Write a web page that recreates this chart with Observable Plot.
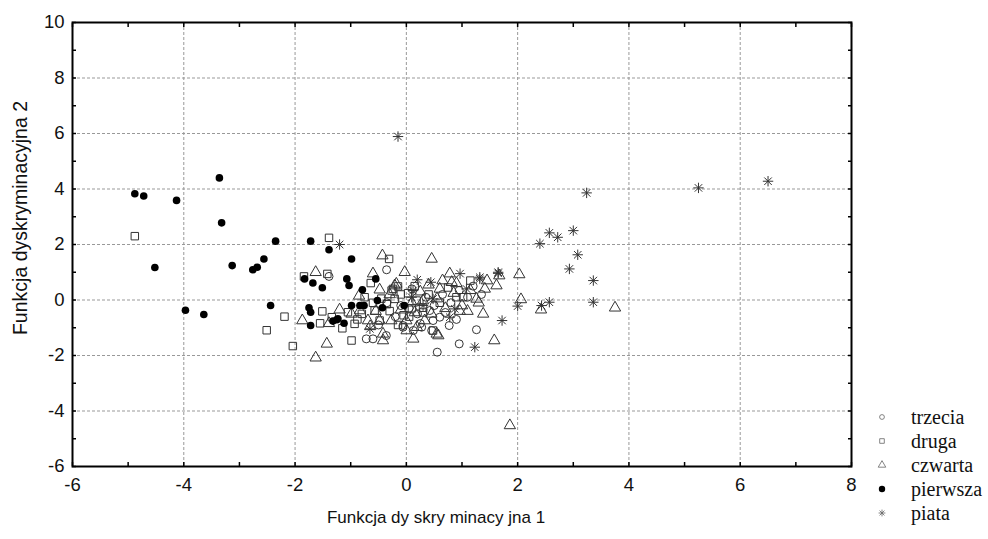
<!DOCTYPE html>
<html><head><meta charset="utf-8">
<script src="https://cdn.jsdelivr.net/npm/d3@7"></script>
<script src="https://cdn.jsdelivr.net/npm/@observablehq/plot@0.6"></script>
<style>
body{margin:0;background:#fff;}
#wrap{position:relative;width:988px;height:539px;overflow:hidden;}
#legend{position:absolute;left:875px;top:405px;font-family:"Liberation Serif","Times New Roman",serif;font-size:20px;color:#111;}
.row{height:24px;display:flex;align-items:center;white-space:nowrap;}
.row svg{width:14px;height:14px;margin-right:22px;flex:none;}
</style></head>
<body><div id="wrap"><div id="chart"></div><div id="legend"></div></div>
<script>
const groupNames = ["trzecia","druga","czwarta","pierwsza","piata"];
const xTicks = [-6,-4,-2,0,2,4,6,8];
const yTicks = [-6,-4,-2,0,2,4,6,8,10];
const xLabel = "Funkcja dy skry minacy jna 1";
const yLabel = "Funkcja dyskryminacyjna 2";

const pierwsza = [[-4.88,3.83],[-4.72,3.75],[-4.13,3.59],[-3.36,4.40],[-3.32,2.78],[-4.52,1.17],[-3.13,1.24],[-2.76,1.09],[-2.68,1.18],[-2.56,1.48],[-2.35,2.12],[-3.97,-0.37],[-3.64,-0.52],[-2.44,-0.20],[-1.72,2.12],[-1.39,1.81],[-0.985,1.48],[-1.83,0.76],[-1.68,0.61],[-1.51,0.44],[-1.07,0.76],[-1.03,0.52],[-0.79,0.37],[-0.55,0.76],[-1.75,-0.28],[-1.72,-0.44],[-1.72,-0.92],[-1.32,-0.76],[-1.25,-0.71],[-1.23,-0.68],[-1.12,-0.84],[-0.985,-0.20],[-0.835,-0.20],[-0.76,-0.20],[-0.52,-0.02],[-0.43,-0.28],[-0.04,-0.20]];

const druga = [[-4.88,2.30],[-2.19,-0.60],[-2.51,-1.09],[-2.04,-1.66],[-1.84,0.85],[-1.39,2.24],[-1.42,0.94],[-1.51,-0.41],[-1.55,-0.84],[-1.34,-0.62],[-1.15,-1.02],[-0.985,-1.46],[-0.31,1.48],[-0.64,0.61],[-1.05,-0.44],[-0.88,-0.70],[-0.93,-0.86],[-0.57,-0.38],[-0.48,-0.74],[-0.265,0.34],[-0.15,0.49],[-0.21,0.04],[0.03,0.245],[0.185,-0.02],[0.30,-0.28],[0.48,-1.10],[-0.24,0.40],[1.02,0.10],[-0.6,-0.1],[-0.3,-0.4],[-0.1,0.2],[0.05,-0.6],[0.15,0.5],[0.4,0.2],[0.6,-0.1],[0.75,0.45],[-0.75,0.1],[0.9,0.1],[1.15,0.7],[-0.45,0.05],[-0.15,-0.9],[0.3,-0.45],[-0.8,-0.5],[-0.35,-0.15],[0.1,-0.3],[-0.05,-0.55]];

const czwarta = [[1.86,-4.52],[2.03,0.92],[2.06,0.02],[2.42,-0.35],[3.75,-0.28],[1.62,0.52],[1.38,-0.50],[1.58,-1.46],[1.10,-0.40],[0.96,-0.40],[1.67,0.88],[0.455,1.48],[-0.03,1.0],[0.78,0.95],[1.41,0.40],[1.26,0.04],[0.575,-1.28],[0.125,-1.40],[0.005,-1.10],[-0.21,0.52],[0.60,0.40],[0.815,0.64],[0.30,-0.02],[-0.48,-0.74],[-0.42,-1.46],[-1.63,1.00],[-1.87,-0.74],[-1.43,-1.58],[-1.63,-2.08],[-1.39,-0.84],[-0.985,-0.50],[-0.43,1.60],[-0.60,0.95],[-0.48,0.37],[-0.835,-0.38],[-0.69,-0.74],[-0.42,-1.22],[-0.27,-0.74],[-0.18,0.58],[0.0,-0.74],[0.19,-0.98],[0.33,-0.74],[0.545,-1.22],[0.1,-0.1],[0.25,0.3],[0.45,-0.5],[0.55,0.05],[0.7,-0.3],[0.85,0.25],[1.0,-0.2],[1.15,0.35],[1.3,-0.1],[-0.3,0.2],[-0.55,-0.4],[0.15,-0.45],[0.4,0.55],[0.9,0.6],[1.45,0.7],[-0.1,-0.35],[0.65,0.7],[-0.85,0.15],[-1.2,-0.35],[-0.65,-0.95]];

const trzecia = [[-0.355,1.09],[-1.39,0.85],[-0.72,-1.40],[-0.60,-1.40],[-0.36,-1.28],[-0.06,-0.98],[0.125,-1.10],[0.455,-1.10],[0.555,-1.88],[0.77,-0.92],[1.26,-1.07],[0.95,-1.58],[0.48,-0.74],[0.275,-0.98],[0.60,-0.62],[0.42,-0.38],[-0.06,-0.92],[0.05,-0.3],[0.2,-0.5],[0.35,0.1],[0.5,-0.2],[0.65,0.2],[0.8,-0.1],[0.95,0.35],[1.1,0.1],[-0.2,-0.6],[-0.35,-0.1],[0.1,0.4],[1.2,0.5],[0.7,-0.45],[0.9,-0.7],[-0.5,-0.9],[1.35,0.2],[0.25,-0.85],[-0.1,-0.2]];

const piata = [[-0.15,5.89],[3.24,3.86],[5.25,4.04],[6.50,4.28],[2.57,2.42],[2.72,2.26],[3.00,2.50],[2.40,2.03],[3.08,1.63],[2.93,1.12],[3.36,0.70],[3.36,-0.08],[2.43,-0.20],[2.57,-0.08],[2.00,-0.22],[1.72,-0.74],[1.23,-1.70],[1.65,1.00],[1.32,0.82],[-1.20,2.0],[0.196,0.73],[0.44,0.64],[-0.655,-1.04],[0.095,0.10],[0.965,0.95],[1.32,0.76],[1.65,0.96],[0.87,-0.32],[0.78,-0.62],[0.48,0.04],[0.12,0.34],[1.08,0.40],[0.3,-0.2]];

// custom "米"-like asterisk symbol
const asterisk = {
  draw(context, size) {
    const r = Math.sqrt(size / Math.PI);
    const d = r * 0.72;
    context.moveTo(-r, 0); context.lineTo(r, 0);
    context.moveTo(0, -r); context.lineTo(0, r);
    context.moveTo(-d, -d); context.lineTo(d, d);
    context.moveTo(-d, d); context.lineTo(d, -d);
  }
};

const styles = {
  trzecia: {symbol: "circle", fill: "none", stroke: "#333", r: 4},
  druga: {symbol: "square", fill: "none", stroke: "#333", r: 4.2},
  czwarta: {symbol: "triangle", fill: "none", stroke: "#333", r: 4.2},
  pierwsza: {symbol: "circle", fill: "#000", stroke: "none", r: 3.8},
  piata: {symbol: asterisk, fill: "none", stroke: "#333", r: 5.2}
};
const groups = {trzecia, druga, czwarta, pierwsza, piata};
const drawOrder = ["druga","czwarta","trzecia","piata","pierwsza"];

const xMinor = d3.range(-6, 8.01, 1);
const yMinor = d3.range(-6, 10.01, 1);
const xGrid = xTicks.filter(v => v > -6 && v < 8);
const yGrid = yTicks.filter(v => v > -6 && v < 10);
const tickFont = {fontSize: 18.5, fontFamily: "Liberation Sans, Arial, sans-serif", fill: "#111", tickFormat: d => String(d)};

const chart = Plot.plot({
  width: 988, height: 539,
  marginLeft: 72, marginRight: 137, marginTop: 22, marginBottom: 73,
  style: {background: "#fff", fontFamily: "Liberation Sans, Arial, sans-serif"},
  x: {domain: [-6, 8]},
  y: {domain: [-6, 10]},
  marks: [
    Plot.gridX(xGrid, {stroke: "#999", strokeOpacity: 1, strokeDasharray: "3,2"}),
    Plot.gridY(yGrid, {stroke: "#999", strokeOpacity: 1, strokeDasharray: "3,2"}),
    ...drawOrder.map(g => Plot.dot(groups[g], {
      x: d => d[0], y: d => d[1],
      symbol: styles[g].symbol, fill: styles[g].fill, stroke: styles[g].stroke,
      strokeWidth: 1, r: styles[g].r
    })),
    Plot.axisX(xMinor, {anchor: "bottom", tickSize: -4, text: null, strokeWidth: 1.5}),
    Plot.axisX(xMinor, {anchor: "top", tickSize: -4, text: null, strokeWidth: 1.5}),
    Plot.axisY(yMinor, {anchor: "left", tickSize: -4, text: null, strokeWidth: 1.5}),
    Plot.axisY(yMinor, {anchor: "right", tickSize: -4, text: null, strokeWidth: 1.5}),
    Plot.axisX(xTicks, {anchor: "bottom", tickSize: 0, tickPadding: 11, label: null, ...tickFont}),
    Plot.axisY(yTicks, {anchor: "left", tickSize: 0, tickPadding: 8, label: null, ...tickFont}),
    Plot.frame({stroke: "#000", strokeWidth: 2})
  ]
});
document.getElementById("chart").appendChild(chart);

const svg = d3.select(chart);
svg.append("text").attr("x", 436).attr("y", 523).attr("text-anchor", "middle")
  .attr("font-size", 17).attr("font-family", "Liberation Sans, Arial, sans-serif").attr("fill", "#111")
  .text(xLabel);
svg.append("text").attr("transform", "translate(27,218) rotate(-90)").attr("text-anchor", "middle")
  .attr("font-size", 19.5).attr("font-family", "Liberation Sans, Arial, sans-serif").attr("fill", "#111")
  .text(yLabel);

// legend
const legend = d3.select("#legend");
const legendSizes = {trzecia: 2.4, druga: 2.6, czwarta: 2.8, pierwsza: 3.2, piata: 3.4};
groupNames.forEach(g => {
  const row = legend.append("div").attr("class", "row");
  const s = row.append("svg").attr("viewBox", "-7 -7 14 14");
  const st = styles[g];
  const type = st.symbol === "circle" ? d3.symbolCircle : st.symbol === "square" ? d3.symbolSquare : st.symbol === "triangle" ? d3.symbolTriangle : asterisk;
  const r = legendSizes[g];
  s.append("path").attr("d", d3.symbol(type, r * r * Math.PI)())
    .attr("fill", st.fill).attr("stroke", st.stroke === "none" ? "none" : "#666").attr("stroke-width", 0.8);
  row.append("span").text(g);
});
</script></body></html>
